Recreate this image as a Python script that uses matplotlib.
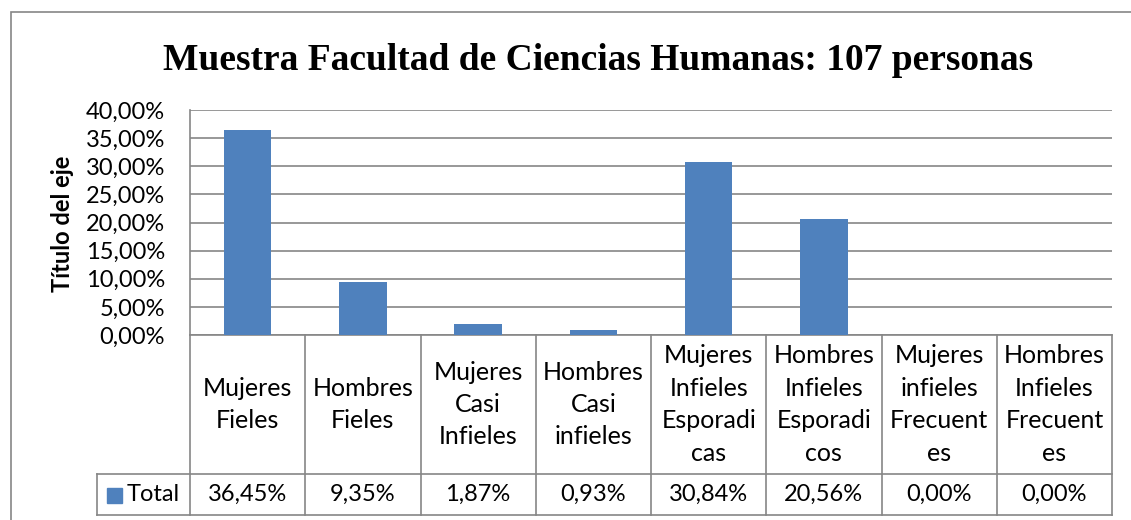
import matplotlib.pyplot as plt
from matplotlib.transforms import blended_transform_factory
from matplotlib.patches import Rectangle

categorias = ["Mujeres\nFieles", "Hombres\nFieles", "Mujeres\nCasi\nInfieles",
              "Hombres\nCasi\ninfieles", "Mujeres\nInfieles\nEsporadi\ncas",
              "Hombres\nInfieles\nEsporadi\ncos", "Mujeres\ninfieles\nFrecuent\nes",
              "Hombres\nInfieles\nFrecuent\nes"]
total = [36.45, 9.35, 1.87, 0.93, 30.84, 20.56, 0.00, 0.00]
serie = "Total"
yticks = [0, 5, 10, 15, 20, 25, 30, 35, 40]

azul = "#4F81BD"
gris = "#868686"
W, H = 1131, 520
fs = 17

plt.rcParams['font.family'] = ['Lato', 'DejaVu Sans']
fig = plt.figure(figsize=(W / 100, H / 100), dpi=100)

# outer chart border
fig.patches.append(Rectangle((11 / W, -0.1), 1.2, (H - 12) / H + 0.1,
                             transform=fig.transFigure, fill=False,
                             edgecolor=gris, linewidth=1.2))

ax = fig.add_axes([190 / W, 1 - 335 / H, (1112 - 190) / W, (335 - 110) / H])
x = list(range(len(total)))
ax.bar(x, total, width=0.41, color=azul, zorder=3)
ax.set_xlim(-0.5, len(total) - 0.5)
ax.set_ylim(0, 40)
ax.set_yticks(yticks)
ax.set_yticklabels([f"{v:.2f}".replace(".", ",") + "%" for v in yticks], fontsize=fs)
ax.tick_params(axis='y', length=0, pad=18)
ax.set_xticks([])
ax.grid(axis='y', color=gris, linewidth=1.2, zorder=0)
for s in ["top", "right", "bottom"]:
    ax.spines[s].set_visible(False)
ax.spines["left"].set_color(gris)
ax.spines["left"].set_linewidth(1.2)

fig.text(598 / W, 1 - 61 / H, "Muestra Facultad de Ciencias Humanas: 107 personas",
         family="Liberation Serif", fontweight="bold", fontsize=27,
         ha="center", va="center")
fig.text(62 / W, 1 - 224 / H, "Título del eje", rotation=90, fontweight="bold",
         fontsize=17, ha="center", va="center")

# data table below the axis
tr = blended_transform_factory(ax.transData, fig.transFigure)
y_top = 1 - 335 / H
y_mid = 1 - 474 / H
y_bot = 1 - 515 / H
left_leg = -0.5 - 93 / 115.25
n = len(total)
kw = dict(color=gris, linewidth=1.2, transform=tr, clip_on=False)
ax.add_line(plt.Line2D([-0.5, n - 0.5], [y_top, y_top], **kw))
ax.add_line(plt.Line2D([left_leg, n - 0.5], [y_mid, y_mid], **kw))
ax.add_line(plt.Line2D([left_leg, n - 0.5], [y_bot, y_bot], **kw))
ax.add_line(plt.Line2D([left_leg, left_leg], [y_mid, y_bot], **kw))
for i in range(n + 1):
    ax.add_line(plt.Line2D([i - 0.5, i - 0.5], [y_top, y_bot], **kw))

for i, (cat, v) in enumerate(zip(categorias, total)):
    ax.text(i, (y_top + y_mid) / 2, cat, transform=tr, ha="center", va="center",
            fontsize=18, linespacing=1.5)
    ax.text(i, (y_mid + y_bot) / 2, f"{v:.2f}".replace(".", ",") + "%", transform=tr,
            ha="center", va="center", fontsize=fs)

# legend key in the table
ax.add_patch(Rectangle((left_leg + 10 / 115.25, 1 - 503 / H), 15 / 115.25, 15 / H,
                       transform=tr, color=azul, clip_on=False))
ax.text(left_leg + 30 / 115.25, (y_mid + y_bot) / 2, serie, transform=tr,
        ha="left", va="center", fontsize=fs)

fig.savefig("out.png", dpi=100)
